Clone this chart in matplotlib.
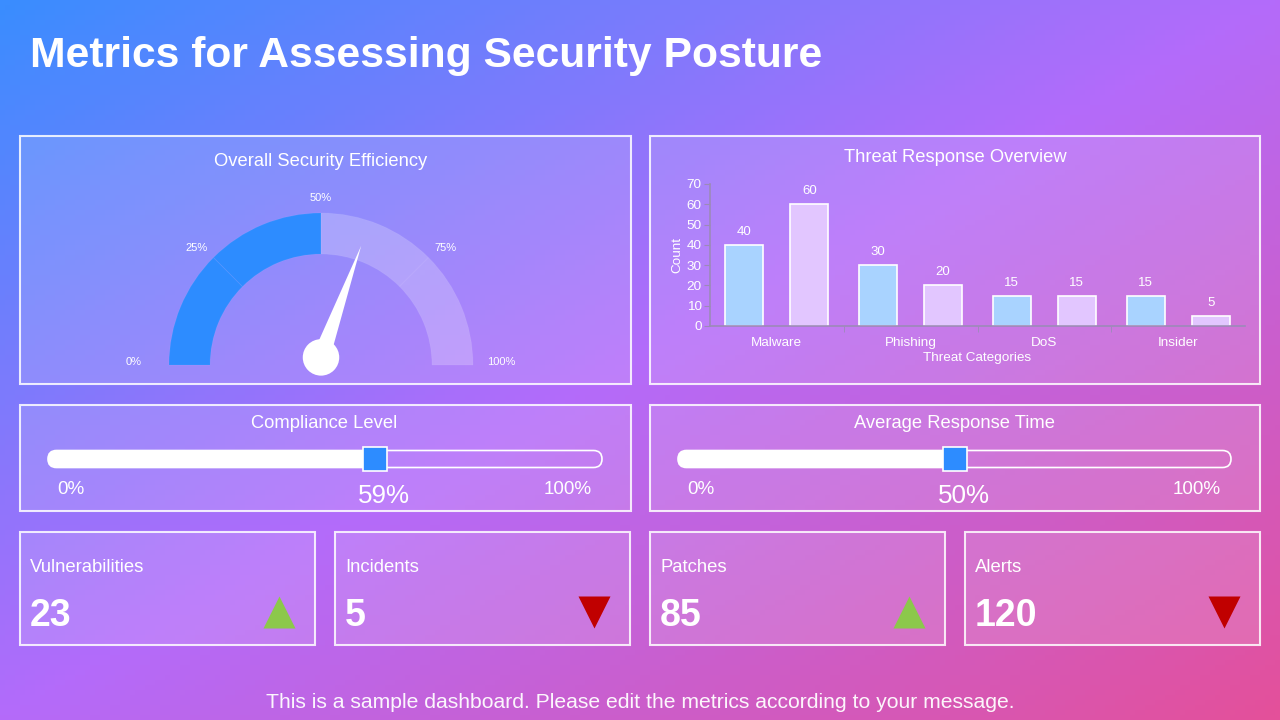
import numpy as np
import matplotlib
matplotlib.use("Agg")
import matplotlib.pyplot as plt
from matplotlib.colors import LinearSegmentedColormap
from matplotlib.patches import Rectangle, FancyBboxPatch, Wedge, Polygon, Circle

plt.rcParams['font.family'] = ['Liberation Sans', 'DejaVu Sans']

# ---- data ----
title = "Metrics for Assessing Security Posture"
footer = "This is a sample dashboard. Please edit the metrics according to your message."

gauge_title = "Overall Security Efficiency"
gauge_value = 61
gauge_fill = 50
gauge_ticks = [0, 25, 50, 75, 100]

bar_title = "Threat Response Overview"
categories = ["Malware", "Phishing", "DoS", "Insider"]
detected = [40, 30, 15, 15]
resolved = [60, 20, 15, 5]

slider_titles = ["Compliance Level", "Average Response Time"]
slider_values = [59, 50]

kpi_names = ["Vulnerabilities", "Incidents", "Patches", "Alerts"]
kpi_values = [23, 5, 85, 120]
kpi_trend = ["up", "down", "up", "down"]

W, H = 1280, 720
WHITE = "white"
BLUE = "#2D8CFF"

fig = plt.figure(figsize=(12.8, 7.2), dpi=100)

# background in pixel coordinates
bg = fig.add_axes([0, 0, 1, 1])
bg.set_xlim(0, W)
bg.set_ylim(H, 0)
bg.axis("off")

cmap = LinearSegmentedColormap.from_list("bg", ["#3A8DFF", "#B46BFA", "#E4509A"])
xx, yy = np.meshgrid(np.linspace(0, 1, 256), np.linspace(0, 1, 144))
bg.imshow((xx + yy) / 2, cmap=cmap, extent=(0, W, H, 0), aspect="auto", zorder=0)


def panel(x0, y0, x1, y1):
    bg.add_patch(Rectangle((x0, y0), x1 - x0, y1 - y0, facecolor=(1, 1, 1, 0.14),
                           edgecolor=(1, 1, 1, 0.85), lw=1.5, zorder=1))


bg.text(30, 56, title, color=WHITE, fontsize=30.7, fontweight="bold", va="center", ha="left")

# panels
panel(20, 136, 631, 384)
panel(650, 136, 1260, 384)
panel(20, 405, 631, 511)
panel(650, 405, 1260, 511)
kpi_x = [(20, 315), (335, 630), (650, 945), (965, 1260)]
for x0, x1 in kpi_x:
    panel(x0, 532, x1, 645)

# ---- gauge ----
bg.text(321, 161, gauge_title, color=WHITE, fontsize=13.2, ha="center", va="center")
R = 152.0
gx = fig.add_axes([121 / W, 1 - 385 / H, 400 / W, 220 / H])
gx.set_xlim(-200 / R, 200 / R)
gx.set_ylim(-20 / R, 200 / R)
gx.axis("off")


def ang(v):
    return 180 - v / 100 * 180


for a, b in zip(gauge_ticks[:-1], gauge_ticks[1:]):
    if b <= gauge_fill:
        fc = BLUE
    else:
        fc = (1, 1, 1, 0.22)
    gx.add_patch(Wedge((0, 0), 1.0, ang(b), ang(a), width=0.27, facecolor=fc,
                       edgecolor=(1, 1, 1, 0.05), lw=0.8))
for t in gauge_ticks:
    a = np.radians(ang(t))
    if t == 0:
        gx.text(-1.18, 0.02, f"{t}%", color=WHITE, fontsize=8, ha="right", va="center")
    elif t == 100:
        gx.text(1.09, 0.02, f"{t}%", color=WHITE, fontsize=8, ha="left", va="center")
    else:
        gx.text(1.16 * np.cos(a), 1.12 * np.sin(a) - 0.02, f"{t}%", color=WHITE,
                fontsize=8, ha="center", va="center")

cy = 0.05
a = np.radians(ang(gauge_value))
tip = (0.78 * np.cos(a), cy + 0.78 * np.sin(a))
pw = 0.058
base1 = (pw * np.cos(a + np.pi / 2), cy + pw * np.sin(a + np.pi / 2))
base2 = (pw * np.cos(a - np.pi / 2), cy + pw * np.sin(a - np.pi / 2))
gx.add_patch(Polygon([base1, tip, base2], closed=True, facecolor=WHITE, edgecolor="none"))
gx.add_patch(Circle((0, cy), 0.12, facecolor=WHITE, edgecolor="none"))

# ---- bar chart ----
bg.text(955, 158, bar_title, color=WHITE, fontsize=13.2, ha="center", va="center")
bx = fig.add_axes([710 / W, 1 - 326 / H, 535 / W, 142 / H])
bx.patch.set_alpha(0)
x = np.arange(len(categories))
off, bw = 0.243, 0.285
b1 = bx.bar(x - off, detected, bw, color="#A9D3FF", edgecolor=WHITE, lw=1.2)
b2 = bx.bar(x + off, resolved, bw, color="#E2C6FF", edgecolor=WHITE, lw=1.2)
for bars, vals in ((b1, detected), (b2, resolved)):
    for r, v in zip(bars, vals):
        bx.annotate(str(v), (r.get_x() + r.get_width() / 2, v), xytext=(0, 5),
                    textcoords="offset points", ha="center", va="bottom",
                    color=WHITE, fontsize=9.5)
bx.set_xlim(-0.5, len(categories) - 0.5)
bx.set_ylim(0, 70)
bx.set_yticks(range(0, 71, 10))
bx.set_xticks(x)
bx.set_xticklabels(categories)
bx.set_xticks(np.arange(0.5, len(categories) - 0.5), minor=True)
bx.tick_params(axis="x", which="major", length=0, colors=WHITE, labelsize=9.7, pad=8)
bx.tick_params(axis="x", which="minor", length=4, color="#9C8AB8", direction="out")
bx.tick_params(axis="y", length=4, color="#9C8AB8", labelcolor=WHITE, labelsize=9.7, pad=2)
for s in ("top", "right"):
    bx.spines[s].set_visible(False)
for s in ("left", "bottom"):
    bx.spines[s].set_color("#9C8AB8")
    bx.spines[s].set_linewidth(1.2)
bx.set_ylabel("Count", color=WHITE, fontsize=9.7, labelpad=2)
bx.set_xlabel("Threat Categories", color=WHITE, fontsize=9.7, labelpad=2)

# ---- sliders ----
slider_x = [(48, 602, 324), (678, 1231, 954)]
for (x0, x1, cx), name, v in zip(slider_x, slider_titles, slider_values):
    bg.text(cx, 423, name, color=WHITE, fontsize=13.2, ha="center", va="center")
    h = 17
    yc = 459
    bg.add_patch(FancyBboxPatch((x0, yc - h / 2), x1 - x0, h,
                                boxstyle=f"round,pad=0,rounding_size={h / 2}",
                                facecolor="none", edgecolor=WHITE, lw=1.2, zorder=3))
    px = x0 + v / 100 * (x1 - x0)
    bg.add_patch(FancyBboxPatch((x0, yc - h / 2), px - x0, h,
                                boxstyle=f"round,pad=0,rounding_size={h / 2}",
                                facecolor=WHITE, edgecolor="none", zorder=3))
    bg.add_patch(Rectangle((px - 12, yc - 12), 24, 24, facecolor=BLUE,
                           edgecolor=WHITE, lw=1.2, zorder=4))
    bg.text(x0 + 23, 490, "0%", color=WHITE, fontsize=13.6, ha="center", va="center")
    bg.text(x1 - 34, 490, "100%", color=WHITE, fontsize=13.6, ha="center", va="center")
    bg.text(px + 9, 496, f"{v}%", color=WHITE, fontsize=18.7, ha="center", va="center")

# ---- KPI boxes ----
for (x0, x1), name, v, tr in zip(kpi_x, kpi_names, kpi_values, kpi_trend):
    bg.text(x0 + 10, 568, name, color=WHITE, fontsize=13.3, ha="left", va="center")
    bg.text(x0 + 10, 616, str(v), color=WHITE, fontsize=27, fontweight="bold",
            ha="left", va="center")
    if tr == "up":
        bg.plot(x1 - 36, 612, marker="^", ms=23, color="#8CC84B", mec="none", zorder=5)
    else:
        bg.plot(x1 - 36, 612, marker="v", ms=23, color="#C00000", mec="none", zorder=5)

bg.text(640, 703, footer, color=WHITE, fontsize=15.2, ha="center", va="center", alpha=0.95)

fig.savefig("out.png", dpi=100)
